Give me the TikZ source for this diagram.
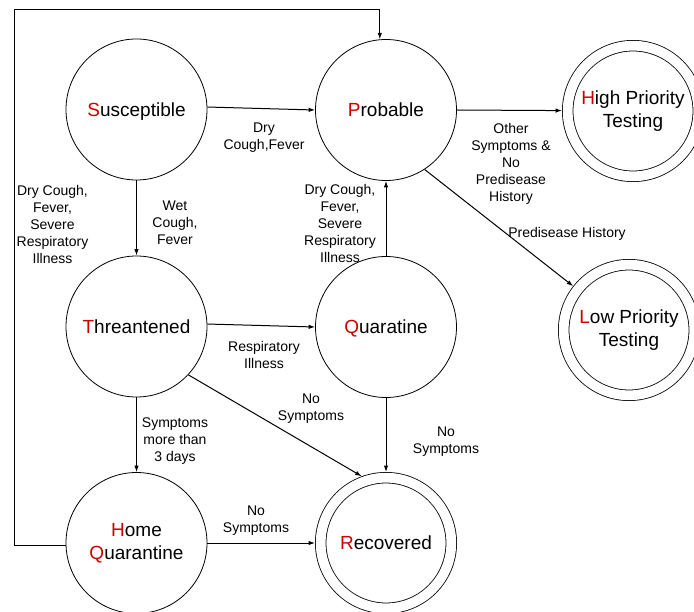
\documentclass[tikz,border=0pt]{standalone}
\usepackage{fontspec}
\setmainfont{Liberation Sans}
\usetikzlibrary{arrows.meta}
\definecolor{initred}{RGB}{204,0,0}
\newcommand{\ini}[1]{\textcolor{initred}{#1}}
\begin{document}
\begin{tikzpicture}[x=1pt,y=-1pt,
  state/.style={circle, draw, line width=0.8pt, minimum size=141pt, inner sep=0pt,
    align=center, font=\fontsize{19}{23}\selectfont},
  final/.style={circle, draw, line width=0.8pt, double, double distance=9.8pt,
    minimum size=130.6pt, inner sep=0pt, outer sep=5.7pt,
    align=center, font=\fontsize{19}{23}\selectfont},
  oneline/.style={text depth=0pt},
  lbl/.style={align=center, inner sep=0pt, font=\fontsize{14}{17}\selectfont},
  arr/.style={line width=1pt, -{Latex[length=6.5pt,width=4.5pt]}}]
\useasboundingbox (0,0) rectangle (694,612);
\fill[white] (0,0) rectangle (694,612);

\node[state, oneline] (sus) at (136.5,109.5) {\ini{S}usceptible};
\node[state, oneline] (prob) at (386,110) {\ini{P}robable};
\node[final] (high) at (633,111) {\ini{H}igh Priority\\Testing};
\node[state, oneline] (thr) at (136.5,326.5) {\ini{T}hreantened};
\node[state, oneline] (quar) at (386,327) {\ini{Q}uaratine};
\node[final] (low) at (629,330) {\ini{L}ow Priority\\Testing};
\node[state] (home) at (136.5,543) {\ini{H}ome\\\ini{Q}uarantine};
\node[final, oneline] (rec) at (386,543) {\ini{R}ecovered};

\coordinate (loopc) at (14,10);

\draw[arr] (sus.2) -- (prob.west);
\draw[arr] (prob.east) -- (high);
\draw[arr] (prob.-57) -- (low);
\draw[arr] (sus) -- (thr);
\draw[arr] (quar) -- (prob);
\draw[arr] (thr.2) -- (quar.west);
\draw[arr] (thr.-43) -- (rec.110);
\draw[arr] (quar) -- (rec);
\draw[arr] (thr) -- (home);
\draw[arr] (home) -- (rec);
\draw[arr] (home.182) -| (loopc) -| (prob.95);

\node[lbl] (l1) at (264,138) {Dry\\Cough,Fever};
\node[lbl] (l2) at (511,164) {Other\\Symptoms \&\\No\\Predisease\\History};
\node[lbl] (l3) at (567,234) {Predisease History};
\node[lbl] (l4) at (52.5,224) {Dry Cough,\\Fever,\\Severe\\Respiratory\\Illness};
\node[lbl] (l5) at (340,223) {Dry Cough,\\Fever,\\Severe\\Respiratory\\Illness};
\node[lbl] (l6) at (175,223) {Wet\\Cough,\\Fever};
\node[lbl] (l7) at (264,355) {Respiratory\\Illness};
\node[lbl] (l8) at (311,408.5) {No\\Symptoms};
\node[lbl] (l9) at (175,441) {Symptoms\\more than\\3 days};
\node[lbl] (l10) at (446,441.5) {No\\Symptoms};
\node[lbl] (l11) at (256,520.5) {No\\Symptoms};
\end{tikzpicture}
\end{document}
